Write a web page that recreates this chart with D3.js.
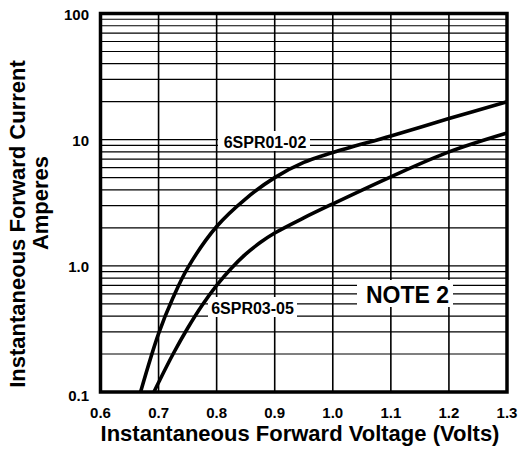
<!DOCTYPE html>
<html>
<head>
<meta charset="utf-8">
<script src="https://cdn.jsdelivr.net/npm/d3@7"></script>
<style>
    body { margin:0; background:#fff; }
    svg text { font-family: "Liberation Sans", Arial, sans-serif; font-weight: bold; fill:#000; }
</style>
</head>
<body>
<svg id="chart" width="520" height="450"></svg>
<script>
// forward voltage (V) / forward current (A)
const voltsA = [0.669, 0.7, 0.725, 0.75, 0.8, 0.85, 0.9, 0.95, 1.0, 1.1, 1.2, 1.3];
const ampsA  = [0.1, 0.29, 0.56, 0.96, 2.05, 3.4, 5.0, 6.6, 7.9, 10.7, 14.7, 20.0];
const voltsB = [0.692, 0.7, 0.725, 0.75, 0.775, 0.8, 0.825, 0.85, 0.875, 0.9, 0.95, 1.0, 1.1, 1.2, 1.3];
const ampsB  = [0.1, 0.119, 0.20, 0.32, 0.487, 0.70, 0.954, 1.24, 1.53, 1.82, 2.40, 3.1, 5.08, 8.0, 11.3];
const xTicks = [0.6, 0.7, 0.8, 0.9, 1.0, 1.1, 1.2, 1.3];
const yTicks = [0.1, 1, 10, 100];
const yTickLabels = ['0.1', '1.0', '10', '100'];

const plot = { left:100.5, right:507, top:13.5, bottom:392 };

const svg = d3.select('#chart');

const x = d3.scaleLinear().domain([0.6, 1.3]).range([plot.left, plot.right]);
const y = d3.scaleLog().domain([0.1, 100]).range([plot.bottom, plot.top]);

// grid
const grid = svg.append('g').attr('class', 'grid');
const minor = [];
for (let d = 0.1; d < 100; d *= 10)
    for (let k = 1; k < 10; k++) minor.push(d * k);

grid.selectAll('line.h').data(minor.filter(v => v > 0.1))
    .join('line').attr('class', 'h')
    .attr('x1', plot.left).attr('x2', plot.right)
    .attr('y1', d => y(d)).attr('y2', d => y(d))
    .style('stroke', '#000').style('stroke-width', 1.2);

grid.selectAll('line.v').data(xTicks.slice(1, -1))
    .join('line').attr('class', 'v')
    .attr('x1', d => x(d)).attr('x2', d => x(d))
    .attr('y1', plot.top).attr('y2', plot.bottom)
    .style('stroke', '#000').style('stroke-width', 1.6);

// label boxes that cut the grid
const labels = [
    { text:'6SPR01-02', box:[218, 131, 92, 20], cx:265, cy:142, fs:16 },
    { text:'6SPR03-05', box:[208, 297, 89, 20], cx:252.5, cy:308, fs:16 },
    { text:'NOTE 2',   box:[357, 280, 96, 27], cx:407.5, cy:295, fs:23 }
];
svg.selectAll('rect.lbl').data(labels).join('rect').attr('class', 'lbl')
    .attr('x', d => d.box[0]).attr('y', d => d.box[1])
    .attr('width', d => d.box[2]).attr('height', d => d.box[3])
    .style('fill', '#fff');

// curves
const line = d3.line().x(d => x(d[0])).y(d => y(d[1])).curve(d3.curveCatmullRom.alpha(0.5));
[[voltsA, ampsA], [voltsB, ampsB]].forEach(([v, a]) => {
    svg.append('path')
        .datum(d3.zip(v, a))
        .attr('d', line)
        .style('fill', 'none').style('stroke', '#000').style('stroke-width', 3.6)
        .style('stroke-linejoin', 'round');
});

svg.selectAll('text.lbl').data(labels).join('text').attr('class', 'lbl')
    .attr('x', d => d.cx).attr('y', d => d.cy)
    .attr('text-anchor', 'middle').attr('dominant-baseline', 'central')
    .style('font-size', d => d.fs + 'px')
    .text(d => d.text);

// frame
svg.append('rect')
    .attr('x', plot.left).attr('y', plot.top)
    .attr('width', plot.right - plot.left).attr('height', plot.bottom - plot.top)
    .style('fill', 'none').style('stroke', '#000').style('stroke-width', 3.5);

// tick labels
svg.selectAll('text.xt').data(xTicks).join('text').attr('class', 'xt')
    .attr('x', d => x(d)).attr('y', 412)
    .attr('text-anchor', 'middle').attr('dominant-baseline', 'central')
    .style('font-size', '15px')
    .text(d => d.toFixed(1));

svg.selectAll('text.yt').data(yTicks).join('text').attr('class', 'yt')
    .attr('x', 89).attr('y', (d, i) => i == 0 ? y(d) + 3 : y(d) + 0.5)
    .attr('text-anchor', 'end').attr('dominant-baseline', 'central')
    .style('font-size', '15px')
    .text((d, i) => yTickLabels[i]);

// axis titles
svg.append('text')
    .attr('x', 300).attr('y', 441)
    .attr('text-anchor', 'middle')
    .style('font-size', '22px')
    .text('Instantaneous Forward Voltage (Volts)');

svg.append('text')
    .attr('transform', 'translate(25,224) rotate(-90)')
    .attr('text-anchor', 'middle')
    .style('font-size', '22px')
    .text('Instantaneous Forward Current');
svg.append('text')
    .attr('transform', 'translate(48,203) rotate(-90)')
    .attr('text-anchor', 'middle')
    .style('font-size', '22px')
    .text('Amperes');
</script>
</body>
</html>
